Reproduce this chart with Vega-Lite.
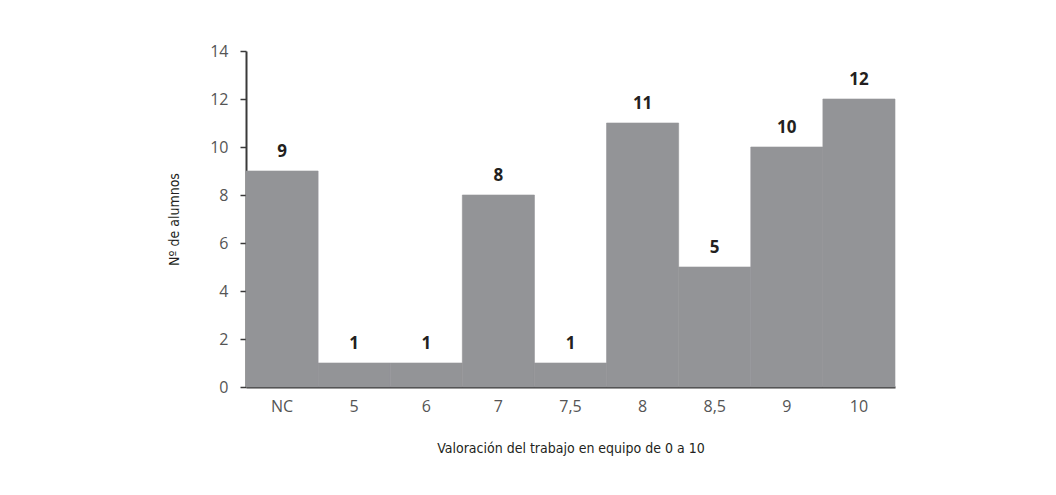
{
  "$schema": "https://vega.github.io/schema/vega-lite/v6.json",
  "autosize": "none",
  "width": 649,
  "height": 336,
  "padding": {"left": 246, "top": 51, "right": 161, "bottom": 108},
  "background": "white",
  "config": {"view": {"stroke": null}},
  "data": {"values": [
    {"cat": "NC", "n": 9},
    {"cat": "5", "n": 1},
    {"cat": "6", "n": 1},
    {"cat": "7", "n": 8},
    {"cat": "7,5", "n": 1},
    {"cat": "8", "n": 11},
    {"cat": "8,5", "n": 5},
    {"cat": "9", "n": 10},
    {"cat": "10", "n": 12}
  ]},
  "encoding": {
    "x": {
      "field": "cat", "type": "nominal", "sort": null,
      "scale": {"paddingInner": 0, "paddingOuter": 0},
      "axis": {
        "title": "Valoración del trabajo en equipo de 0 a 10",
        "labelAngle": 0, "ticks": false, "domain": true,
        "domainColor": "#3a3a3a", "domainWidth": 2,
        "labelFont": "Open Sans", "labelFontSize": 16, "labelFontWeight": "normal",
        "labelColor": "#555555", "labelPadding": 11,
        "titleFont": "DejaVu Sans Condensed", "titleFontSize": 14, "titleFontWeight": "normal",
        "titleColor": "#231f20", "titlePadding": 27
      }
    },
    "y": {
      "field": "n", "type": "quantitative",
      "scale": {"domain": [0, 14], "nice": false},
      "axis": {
        "title": "Nº de alumnos", "values": [0, 2, 4, 6, 8, 10, 12, 14],
        "grid": false, "tickSize": 6, "tickColor": "#3a3a3a", "tickWidth": 1.5,
        "domainColor": "#3a3a3a", "domainWidth": 2,
        "labelFont": "Open Sans", "labelFontSize": 16, "labelFontWeight": "normal",
        "labelColor": "#555555", "labelPadding": 12,
        "titleFont": "DejaVu Sans Condensed", "titleFontSize": 14, "titleFontWeight": "normal",
        "titleColor": "#231f20", "titlePadding": 28
      }
    }
  },
  "layer": [
    {"mark": {"type": "bar", "color": "#939497", "stroke": "#939497", "strokeWidth": 0.6}},
    {"mark": {"type": "text", "dy": -19, "font": "Open Sans", "fontSize": 17, "fontWeight": "bold", "color": "#231f20"},
     "encoding": {"text": {"field": "n", "type": "quantitative"}}}
  ]
}
